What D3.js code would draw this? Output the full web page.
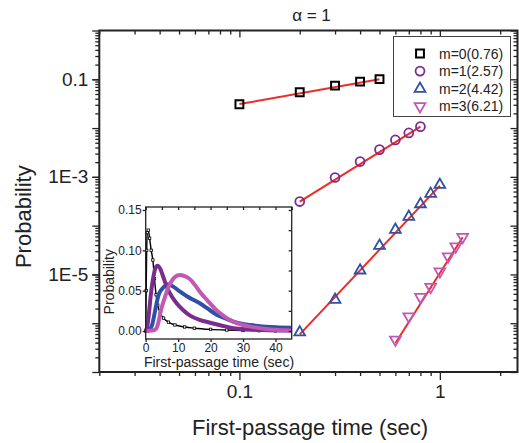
<!DOCTYPE html>
<html>
<head>
<meta charset="utf-8">
<script src="https://cdn.jsdelivr.net/npm/d3@7"></script>
<style>
  body { margin: 0; background: #fff; }
  text { font-family: "Liberation Sans", Arial, sans-serif; fill: #222; }
</style>
</head>
<body>
<script>
var w = 519;
var h = 443;

// main log-log data (time in sec, probability)
var t0 = [0.1, 0.2, 0.3, 0.4, 0.5];
var p0 = [0.0307, 0.0542, 0.074, 0.0893, 0.101];
var t1 = [0.2, 0.3, 0.4, 0.5, 0.6, 0.7, 0.8];
var p1 = [3.12e-4, 9.7e-4, 2.06e-3, 3.62e-3, 5.72e-3, 7.96e-3, 0.0107];
var t2 = [0.2, 0.3, 0.4, 0.5, 0.6, 0.7, 0.8, 0.9, 1.0];
var p2 = [6.5e-7, 3.03e-6, 1.21e-5, 3.87e-5, 8.23e-5, 1.52e-4, 2.76e-4, 4.49e-4, 6.86e-4];
var t3 = [0.6, 0.7, 0.8, 0.9, 1.0, 1.1, 1.2, 1.3];
var p3 = [4.6e-7, 1.38e-6, 3.44e-6, 5.52e-6, 1.15e-5, 2.33e-5, 3.74e-5, 5.83e-5];

// fitted power-law lines (end points)
var fitT = [[0.1, 0.5], [0.2, 0.8], [0.2, 1.0], [0.6, 1.3]];
var fitP = [[0.031, 0.1], [3.1e-4, 0.0107], [5.9e-7, 6.6e-4], [3.9e-7, 5.8e-5]];

var legendLabels = ["m=0(0.76)", "m=1(2.57)", "m=2(4.42)", "m=3(6.21)"];
var colors = ["#000000", "#7b2d8e", "#2e51a5", "#c158b4"];

// inset: full distributions (linear axes)
var it0 = [0, 0.15, 0.3, 0.5, 0.8, 1.2, 1.7, 2.2, 2.7, 3.2, 3.7, 4.5, 5.5, 7, 9, 12, 15, 20, 25, 30, 35, 40];
var ip0 = [0.0, 0.05, 0.1, 0.122, 0.125, 0.115, 0.1, 0.088, 0.065, 0.045, 0.032, 0.022, 0.016, 0.011, 0.0075, 0.005, 0.0035, 0.002, 0.0012, 0.0007, 0.0004, 0.0002];
var it1 = [0, 0.5, 1, 1.5, 2, 2.5, 3, 3.6, 4.5, 5.5, 6.5, 8, 9.6, 11.5, 13.7, 16.8, 19, 23, 27, 32, 38, 45];
var ip1 = [0, 0.006, 0.022, 0.042, 0.058, 0.07, 0.078, 0.081, 0.077, 0.066, 0.055, 0.043, 0.034, 0.026, 0.019, 0.0136, 0.0112, 0.0072, 0.0035, 0.002, 0.001, 0.0005];
var it2 = [0, 1, 1.5, 2, 2.5, 3, 3.5, 4, 5, 6, 7, 8.5, 10.5, 12.7, 15, 16.8, 19, 22, 25, 27, 30, 32.3, 37, 41, 45];
var ip2 = [0, 0.001, 0.003, 0.008, 0.017, 0.027, 0.037, 0.045, 0.052, 0.056, 0.058, 0.055, 0.049, 0.043, 0.038, 0.034, 0.028, 0.02, 0.015, 0.0116, 0.0088, 0.0074, 0.0053, 0.0045, 0.004];
var it3 = [0, 2, 3, 3.5, 4, 4.5, 5, 6, 7, 8, 9, 10.5, 12, 13.7, 15, 16.8, 19, 22, 25, 27, 30, 32.3, 37, 41, 45];
var ip3 = [0, 0.0005, 0.002, 0.005, 0.012, 0.022, 0.03, 0.043, 0.054, 0.062, 0.067, 0.0695, 0.068, 0.064, 0.058, 0.048, 0.038, 0.025, 0.016, 0.0116, 0.0075, 0.0054, 0.0025, 0.0012, 0.0006];

var mainT = [t0, t1, t2, t3];
var mainP = [p0, p1, p2, p3];
var insetT = [it0, it1, it2, it3];
var insetP = [ip0, ip1, ip2, ip3];

var pLeft = 99.3, pRight = 517.5, pTop = 30.5, pBottom = 372;

var x = d3.scaleLog().domain([0.02, 2.44]).range([pLeft, pRight]);
var y = d3.scaleLog().domain([1e-7, 1]).range([pBottom, pTop]);

var svg = d3.select("body").append("svg")
  .attr("width", w)
  .attr("height", h);

// tick value lists
var xMajor = [0.1, 1];
var xMinor = [];
[0.01, 0.1, 1].forEach(function(d) {
  for (var k = 2; k <= 9; k++) {
    var v = k * d;
    if (v >= 0.0199 && v <= 2.44) xMinor.push(v);
  }
});
var yMajor = [], yMinor = [];
for (var e = -7; e <= 0; e++) {
  yMajor.push(Math.pow(10, e));
  if (e < 0) for (var k = 2; k <= 9; k++) yMinor.push(k * Math.pow(10, e));
}
var yLabels = [0.1, 1e-3, 1e-5];
var yLabelText = ["0.1", "1E-3", "1E-5"];

function addAxis(axis, tx, ty, fontSize) {
  var g = svg.append("g")
    .attr("transform", "translate(" + tx + "," + ty + ")")
    .call(axis);
  g.select(".domain").remove();
  g.selectAll("line").attr("stroke", "#222").attr("stroke-width", 1.3);
  g.selectAll("text").style("font-size", fontSize + "px").attr("fill", "#222")
    .style("font-family", '"Liberation Sans", Arial, sans-serif');
  return g;
}

// main axes: bottom/left out, top/right in
addAxis(d3.axisBottom(x).tickValues(xMinor).tickSize(4).tickFormat(""), 0, pBottom, 19);
addAxis(d3.axisBottom(x).tickValues(xMajor).tickSize(8).tickPadding(5).tickFormat(function(d) { return d; }), 0, pBottom, 19);
addAxis(d3.axisTop(x).tickValues(xMinor).tickSize(-4).tickFormat(""), 0, pTop, 19);
addAxis(d3.axisTop(x).tickValues(xMajor).tickSize(-7).tickFormat(""), 0, pTop, 19);

addAxis(d3.axisLeft(y).tickValues(yMinor).tickSize(4).tickFormat(""), pLeft, 0, 19);
addAxis(d3.axisLeft(y).tickValues(yMajor).tickSize(7).tickFormat(""), pLeft, 0, 19);
addAxis(d3.axisLeft(y).tickValues(yLabels).tickSize(7).tickPadding(4)
  .tickFormat(function(d, i) { return yLabelText[i]; }), pLeft, 0, 19);
addAxis(d3.axisRight(y).tickValues(yMinor).tickSize(-4).tickFormat(""), pRight, 0, 19);
addAxis(d3.axisRight(y).tickValues(yMajor).tickSize(-7).tickFormat(""), pRight, 0, 19);

svg.append("rect")
  .attr("x", pLeft).attr("y", pTop)
  .attr("width", pRight - pLeft).attr("height", pBottom - pTop)
  .attr("fill", "none").attr("stroke", "#222").attr("stroke-width", 2);

// fit lines
var line = d3.line()
  .x(function(d) { return x(d[0]); })
  .y(function(d) { return y(d[1]); });

fitT.forEach(function(ts, i) {
  svg.append("path")
    .datum(ts.map(function(t, j) { return [t, fitP[i][j]]; }))
    .attr("d", line)
    .attr("fill", "none")
    .attr("stroke", "#ee2b27")
    .attr("stroke-width", 2);
});

var symbols = [
  d3.symbol().type(d3.symbolSquare).size(62),
  d3.symbol().type(d3.symbolCircle).size(62),
  d3.symbol().type(d3.symbolTriangle).size(50),
  d3.symbol().type(d3.symbolTriangle).size(50)
];
var rot = [0, 0, 0, 180];
var strokeW = [2, 1.8, 1.8, 1.8];

mainT.forEach(function(ts, i) {
  svg.append("g").selectAll("path")
    .data(ts.map(function(t, j) { return [t, mainP[i][j]]; }))
    .enter()
    .append("path")
    .attr("d", symbols[i])
    .attr("transform", function(d) {
      return "translate(" + x(d[0]) + "," + y(d[1]) + ") rotate(" + rot[i] + ")";
    })
    .attr("fill", "none")
    .attr("stroke", colors[i])
    .attr("stroke-width", strokeW[i]);
});

// legend
svg.append("rect")
  .attr("x", 393.5).attr("y", 36.5)
  .attr("width", 117).attr("height", 80)
  .attr("fill", "#fff").attr("stroke", "#444").attr("stroke-width", 1);

legendLabels.forEach(function(label, i) {
  var ly = 53.5 + i * 17.6;
  svg.append("path")
    .attr("d", symbols[i])
    .attr("transform", "translate(420," + ly + ") rotate(" + rot[i] + ")")
    .attr("fill", "none")
    .attr("stroke", colors[i])
    .attr("stroke-width", strokeW[i]);
  svg.append("text")
    .attr("x", 439).attr("y", ly + 5)
    .style("font-size", "14px")
    .text(label);
});

// titles
svg.append("text")
  .attr("x", 311.5).attr("y", 21)
  .attr("text-anchor", "middle")
  .style("font-size", "17px")
  .text("\u03b1 = 1");

svg.append("text")
  .attr("x", 310).attr("y", 434.5)
  .attr("text-anchor", "middle")
  .style("font-size", "22px")
  .text("First-passage time (sec)");

svg.append("text")
  .attr("transform", "translate(31,216.7) rotate(-90)")
  .attr("text-anchor", "middle")
  .style("font-size", "22px")
  .text("Probability");

// ---- inset ----
var iLeft = 145.7, iRight = 291.7, iTop = 207, iBottom = 339;
var ix = d3.scaleLinear().domain([0, 45]).range([iLeft, iRight]);
var iy = d3.scaleLinear().domain([-0.0099, 0.1537]).range([iBottom, iTop]);

svg.append("rect")
  .attr("x", iLeft).attr("y", iTop)
  .attr("width", iRight - iLeft).attr("height", iBottom - iTop)
  .attr("fill", "#fff");

var iline = d3.line()
  .curve(d3.curveMonotoneX)
  .x(function(d) { return ix(d[0]); })
  .y(function(d) { return iy(d[1]); });

var order = [0, 2, 1, 3];
var iWidth = [1.4, 4, 4, 4];
order.forEach(function(i) {
  var pts = insetT[i].map(function(t, j) { return [t, insetP[i][j]]; });
  svg.append("path")
    .datum(pts)
    .attr("d", iline)
    .attr("fill", "none")
    .attr("stroke", colors[i])
    .attr("stroke-width", iWidth[i])
    .attr("stroke-linejoin", "round");
  if (i === 0) {
    svg.append("g").selectAll("rect")
      .data(pts)
      .enter()
      .append("rect")
      .attr("x", function(d) { return ix(d[0]) - 1.2; })
      .attr("y", function(d) { return iy(d[1]) - 1.2; })
      .attr("width", 2.4).attr("height", 2.4)
      .attr("fill", "#fff").attr("stroke", "#000").attr("stroke-width", 0.8);
  }
});

var ixTicks = [0, 10, 20, 30, 40];
var ixMinor = [5, 15, 25, 35, 45];
var iyTicks = [0, 0.05, 0.1, 0.15];
var iyMinor = [0.025, 0.075, 0.125];

addAxis(d3.axisBottom(ix).tickValues(ixTicks).tickSize(3).tickPadding(1).tickFormat(d3.format("d")), 0, iBottom, 12);
addAxis(d3.axisTop(ix).tickValues(ixTicks.concat(ixMinor)).tickSize(-3).tickFormat(""), 0, iTop, 12);
addAxis(d3.axisLeft(iy).tickValues(iyTicks).tickSize(3).tickPadding(1).tickFormat(d3.format(".2f")), iLeft, 0, 12);
addAxis(d3.axisRight(iy).tickValues(iyTicks.concat(iyMinor)).tickSize(-3).tickFormat(""), iRight, 0, 12);

svg.append("rect")
  .attr("x", iLeft).attr("y", iTop)
  .attr("width", iRight - iLeft).attr("height", iBottom - iTop)
  .attr("fill", "none").attr("stroke", "#222").attr("stroke-width", 1.3);

svg.append("text")
  .attr("x", 219).attr("y", 366.5)
  .attr("text-anchor", "middle")
  .style("font-size", "14px")
  .text("First-passage time (sec)");

svg.append("text")
  .attr("transform", "translate(114,281.7) rotate(-90)")
  .attr("text-anchor", "middle")
  .style("font-size", "14px")
  .text("Probability");
</script>
</body>
</html>
